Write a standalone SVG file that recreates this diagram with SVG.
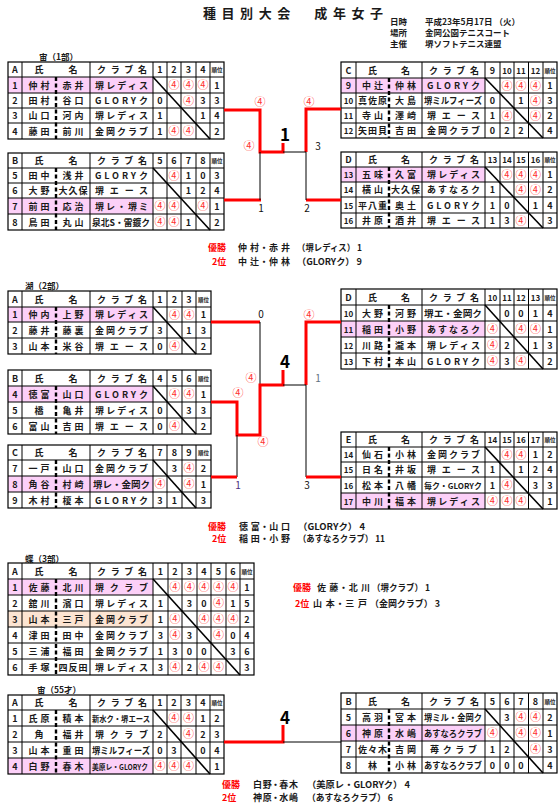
<svg xmlns="http://www.w3.org/2000/svg" width="560" height="810" viewBox="0 0 560 810">
<style>
text{font-family:"Noto Sans CJK JP","Noto Sans CJK SC",sans-serif;font-size:9px;font-weight:700;fill:#1a1a1a}
.m{text-anchor:middle}
.o{fill:#ff3333;font-weight:400;font-size:11px}
.k{font-size:5.5px}
.n{font-size:8px}
.bx{fill:none;stroke:#000;stroke-width:1.2}
.ln{fill:none;stroke:#000;stroke-width:1}
.dg{fill:none;stroke:#000;stroke-width:1.6}
.ds{fill:none;stroke:#000;stroke-width:2.4;stroke-dasharray:4 2.5}
.pk{fill:#fcd0f8}
.or{fill:#fce4d2}
.rd{fill:none;stroke:#ff0000;stroke-width:3}
.bk{fill:none;stroke:#000;stroke-width:1}
.sc{font-size:10px;font-weight:400;fill:#111}
.big{font-size:17px;font-weight:700;fill:#000}
.rt{fill:#ff0000}
.ttl{font-size:13px}
.inf{font-size:8.5px}
</style>
<rect width="560" height="810" fill="#fff"/>
<g id="header">
<text class="ttl" x="203" y="18" textLength="180">種目別大会　成年女子</text>
<text class="inf" x="390" y="25">日時</text><text class="inf" x="425" y="25">平成23年5月17日 （火）</text>
<text class="inf" x="390" y="36">場所</text><text class="inf" x="425" y="36">金岡公園テニスコート</text>
<text class="inf" x="390" y="47">主催</text><text class="inf" x="425" y="47">堺ソフトテニス連盟</text>
</g>
<g id="titles">
<text class="inf" x="39" y="60">宙（1部）</text>
<text class="inf" x="25" y="288.5">湖（2部）</text>
<text class="inf" x="25" y="561.5">蝶（3部）</text>
<text class="inf" x="37" y="693">宙（55才）</text>
</g>

<g id="sora1-A">
<rect class="pk" x="8" y="77" width="145" height="16"/>
<rect class="bx" x="8" y="62" width="216" height="77"/>
<path class="ln" d="M22 62V139M90 62V139M153 62V139M167 62V139M181 62V139M196 62V139M210 62V139M8 77H224M8 93H224M8 108H224M8 123H224"/>
<path class="dg" d="M153 77L210 139"/>
<path class="ds" d="M56 77V139"/>
<text class="m" x="15" y="73">A</text><text class="m" x="39" y="73">氏</text><text class="m" x="73" y="73">名</text><text x="97" y="73" textLength="50">クラブ名</text><text class="m" x="160" y="73">1</text><text class="m" x="174" y="73">2</text><text class="m" x="188.5" y="73">3</text><text class="m" x="203" y="73">4</text><text class="m k" x="217" y="72">順位</text>
<text class="m" x="15" y="88.5">1</text><text x="28.5" y="88.5" textLength="21">仲村</text><text x="62.5" y="88.5" textLength="21">赤井</text><text x="95" y="88.5" textLength="53">堺レディス</text><text class="m o" x="174" y="89">④</text><text class="m o" x="188.5" y="89">④</text><text class="m o" x="203" y="89">④</text><text class="m" x="217" y="88.5">1</text>
<text class="m" x="15" y="104">2</text><text x="28.5" y="104" textLength="21">田村</text><text x="62.5" y="104" textLength="21">谷口</text><text x="95" y="104" textLength="53">GLORYク</text><text class="m" x="160" y="104">0</text><text class="m o" x="188.5" y="104.5">④</text><text class="m" x="203" y="104">3</text><text class="m" x="217" y="104">3</text>
<text class="m" x="15" y="119">3</text><text x="28.5" y="119" textLength="21">山口</text><text x="62.5" y="119" textLength="21">河内</text><text x="95" y="119" textLength="53">堺レディス</text><text class="m" x="160" y="119">1</text><text class="m" x="203" y="119">1</text><text class="m" x="217" y="119">4</text>
<text class="m" x="15" y="134.5">4</text><text x="28.5" y="134.5" textLength="21">藤田</text><text x="62.5" y="134.5" textLength="21">前川</text><text x="95" y="134.5" textLength="53">金岡クラブ</text><text class="m" x="160" y="134.5">1</text><text class="m o" x="174" y="135">④</text><text class="m o" x="188.5" y="135">④</text><text class="m" x="217" y="134.5">2</text>
</g>

<g id="sora1-B">
<rect class="pk" x="8" y="198" width="145" height="16"/>
<rect class="bx" x="8" y="153" width="216" height="77"/>
<path class="ln" d="M22 153V230M90 153V230M153 153V230M167 153V230M181 153V230M196 153V230M210 153V230M8 168H224M8 183H224M8 198H224M8 214H224"/>
<path class="dg" d="M153 168L210 230"/>
<path class="ds" d="M56 168V230"/>
<text class="m" x="15" y="164">B</text><text class="m" x="39" y="164">氏</text><text class="m" x="73" y="164">名</text><text x="97" y="164" textLength="50">クラブ名</text><text class="m" x="160" y="164">5</text><text class="m" x="174" y="164">6</text><text class="m" x="188.5" y="164">7</text><text class="m" x="203" y="164">8</text><text class="m k" x="217" y="163">順位</text>
<text class="m" x="15" y="179">5</text><text x="28.5" y="179" textLength="21">田中</text><text x="62.5" y="179" textLength="21">浅井</text><text x="95" y="179" textLength="53">GLORYク</text><text class="m o" x="174" y="179.5">④</text><text class="m" x="188.5" y="179">1</text><text class="m" x="203" y="179">0</text><text class="m" x="217" y="179">3</text>
<text class="m" x="15" y="194">6</text><text x="28.5" y="194" textLength="21">大野</text><text x="58.5" y="194" textLength="29">大久保</text><text x="95" y="194" textLength="53">堺エース</text><text class="m" x="188.5" y="194">1</text><text class="m" x="203" y="194">2</text><text class="m" x="217" y="194">4</text>
<text class="m" x="15" y="209.5">7</text><text x="28.5" y="209.5" textLength="21">前田</text><text x="62.5" y="209.5" textLength="21">応治</text><text x="95" y="209.5" textLength="53">堺レ・堺ミ</text><text class="m o" x="160" y="210">④</text><text class="m o" x="174" y="210">④</text><text class="m o" x="203" y="210">④</text><text class="m" x="217" y="209.5">1</text>
<text class="m" x="15" y="225.5">8</text><text x="28.5" y="225.5" textLength="21">鳥田</text><text x="62.5" y="225.5" textLength="21">丸山</text><text x="92" y="225.5" textLength="58" lengthAdjust="spacingAndGlyphs">泉北S・雷鍍ク</text><text class="m o" x="160" y="226">④</text><text class="m o" x="174" y="226">④</text><text class="m" x="188.5" y="225.5">1</text><text class="m" x="217" y="225.5">2</text>
</g>

<g id="sora1-C">
<rect class="pk" x="341" y="78" width="144" height="15"/>
<rect class="bx" x="341" y="62" width="216" height="76"/>
<path class="ln" d="M356 62V138M422 62V138M485 62V138M500 62V138M514 62V138M528.5 62V138M543 62V138M341 78H557M341 93H557M341 108H557M341 123H557"/>
<path class="dg" d="M485 78L543 138"/>
<path class="ds" d="M389 78V138"/>
<text class="m" x="348.5" y="73.5">C</text><text class="m" x="372.5" y="73.5">氏</text><text class="m" x="405.5" y="73.5">名</text><text x="429" y="73.5" textLength="50">クラブ名</text><text class="m" x="492.5" y="73.5">9</text><text class="m n" x="507" y="73.5">10</text><text class="m n" x="521" y="73.5">11</text><text class="m n" x="535.5" y="73.5">12</text><text class="m k" x="550" y="72.5">順位</text>
<text class="m" x="348.5" y="89">9</text><text x="362" y="89" textLength="21">中辻</text><text x="395" y="89" textLength="21">仲林</text><text x="427" y="89" textLength="53">GLORYク</text><text class="m o" x="507" y="89.5">④</text><text class="m o" x="521" y="89.5">④</text><text class="m o" x="535.5" y="89.5">④</text><text class="m" x="550" y="89">1</text>
<text class="m n" x="348.5" y="104">10</text><text x="358" y="104" textLength="29">真佐原</text><text x="395" y="104" textLength="21">大島</text><text x="424" y="104" textLength="58" lengthAdjust="spacingAndGlyphs">堺ミルフィーズ</text><text class="m" x="492.5" y="104">0</text><text class="m" x="521" y="104">1</text><text class="m o" x="535.5" y="104.5">④</text><text class="m" x="550" y="104">3</text>
<text class="m n" x="348.5" y="119">11</text><text x="362" y="119" textLength="21">寺山</text><text x="395" y="119" textLength="21">澤崎</text><text x="427" y="119" textLength="53">堺エース</text><text class="m" x="492.5" y="119">1</text><text class="m o" x="507" y="119.5">④</text><text class="m o" x="535.5" y="119.5">④</text><text class="m" x="550" y="119">2</text>
<text class="m n" x="348.5" y="134">12</text><text x="358" y="134" textLength="29">矢田貝</text><text x="395" y="134" textLength="21">吉田</text><text x="427" y="134" textLength="53">金岡クラブ</text><text class="m" x="492.5" y="134">0</text><text class="m" x="507" y="134">2</text><text class="m" x="521" y="134">2</text><text class="m" x="550" y="134">4</text>
</g>

<g id="sora1-D">
<rect class="pk" x="341" y="167" width="144" height="15"/>
<rect class="bx" x="341" y="152" width="216" height="76"/>
<path class="ln" d="M356 152V228M422 152V228M485 152V228M500 152V228M514 152V228M528.5 152V228M543 152V228M341 167H557M341 182H557M341 197H557M341 213H557"/>
<path class="dg" d="M485 167L543 228"/>
<path class="ds" d="M389 167V228"/>
<text class="m" x="348.5" y="163">D</text><text class="m" x="372.5" y="163">氏</text><text class="m" x="405.5" y="163">名</text><text x="429" y="163" textLength="50">クラブ名</text><text class="m n" x="492.5" y="163">13</text><text class="m n" x="507" y="163">14</text><text class="m n" x="521" y="163">15</text><text class="m n" x="535.5" y="163">16</text><text class="m k" x="550" y="162">順位</text>
<text class="m n" x="348.5" y="178">13</text><text x="362" y="178" textLength="21">五味</text><text x="395" y="178" textLength="21">久富</text><text x="427" y="178" textLength="53">堺レディス</text><text class="m o" x="507" y="178.5">④</text><text class="m o" x="521" y="178.5">④</text><text class="m o" x="535.5" y="178.5">④</text><text class="m" x="550" y="178">1</text>
<text class="m n" x="348.5" y="193">14</text><text x="362" y="193" textLength="21">横山</text><text x="391" y="193" textLength="29">大久保</text><text x="427" y="193" textLength="53">あすなろク</text><text class="m" x="492.5" y="193">1</text><text class="m o" x="521" y="193.5">④</text><text class="m o" x="535.5" y="193.5">④</text><text class="m" x="550" y="193">2</text>
<text class="m n" x="348.5" y="208.5">15</text><text x="358" y="208.5" textLength="29">平八重</text><text x="395" y="208.5" textLength="21">奥土</text><text x="427" y="208.5" textLength="53">GLORYク</text><text class="m" x="492.5" y="208.5">1</text><text class="m" x="507" y="208.5">0</text><text class="m" x="535.5" y="208.5">1</text><text class="m" x="550" y="208.5">4</text>
<text class="m n" x="348.5" y="224">16</text><text x="362" y="224" textLength="21">井原</text><text x="395" y="224" textLength="21">酒井</text><text x="427" y="224" textLength="53">堺エース</text><text class="m" x="492.5" y="224">1</text><text class="m" x="507" y="224">3</text><text class="m o" x="521" y="224.5">④</text><text class="m" x="550" y="224">3</text>
</g>

<g id="ko-A">
<rect class="pk" x="8" y="307" width="145" height="15"/>
<rect class="bx" x="8" y="291" width="203" height="63"/>
<path class="ln" d="M22 291V354M90 291V354M153 291V354M167 291V354M182 291V354M196 291V354M8 307H211M8 322H211M8 338H211"/>
<path class="dg" d="M153 307L196 354"/>
<path class="ds" d="M56 307V354"/>
<text class="m" x="15" y="302.5">A</text><text class="m" x="39" y="302.5">氏</text><text class="m" x="73" y="302.5">名</text><text x="97" y="302.5" textLength="50">クラブ名</text><text class="m" x="160" y="302.5">1</text><text class="m" x="174.5" y="302.5">2</text><text class="m" x="189" y="302.5">3</text><text class="m k" x="203.5" y="301.5">順位</text>
<text class="m" x="15" y="318">1</text><text x="28.5" y="318" textLength="21">仲内</text><text x="62.5" y="318" textLength="21">上野</text><text x="95" y="318" textLength="53">堺レディス</text><text class="m o" x="174.5" y="318.5">④</text><text class="m o" x="189" y="318.5">④</text><text class="m" x="203.5" y="318">1</text>
<text class="m" x="15" y="333.5">2</text><text x="28.5" y="333.5" textLength="21">藤井</text><text x="62.5" y="333.5" textLength="21">藤裏</text><text x="95" y="333.5" textLength="53">金岡クラブ</text><text class="m" x="160" y="333.5">3</text><text class="m" x="189" y="333.5">1</text><text class="m" x="203.5" y="333.5">3</text>
<text class="m" x="15" y="349.5">3</text><text x="28.5" y="349.5" textLength="21">山本</text><text x="62.5" y="349.5" textLength="21">米谷</text><text x="95" y="349.5" textLength="53">堺エース</text><text class="m" x="160" y="349.5">0</text><text class="m o" x="174.5" y="350">④</text><text class="m" x="203.5" y="349.5">2</text>
</g>

<g id="ko-B">
<rect class="pk" x="8" y="386" width="145" height="16"/>
<rect class="bx" x="8" y="370" width="203" height="64"/>
<path class="ln" d="M22 370V434M90 370V434M153 370V434M167 370V434M182 370V434M196 370V434M8 386H211M8 402H211M8 418H211"/>
<path class="dg" d="M153 386L196 434"/>
<path class="ds" d="M56 386V434"/>
<text class="m" x="15" y="381.5">B</text><text class="m" x="39" y="381.5">氏</text><text class="m" x="73" y="381.5">名</text><text x="97" y="381.5" textLength="50">クラブ名</text><text class="m" x="160" y="381.5">4</text><text class="m" x="174.5" y="381.5">5</text><text class="m" x="189" y="381.5">6</text><text class="m k" x="203.5" y="380.5">順位</text>
<text class="m" x="15" y="397.5">4</text><text x="28.5" y="397.5" textLength="21">徳富</text><text x="62.5" y="397.5" textLength="21">山口</text><text x="95" y="397.5" textLength="53">GLORYク</text><text class="m o" x="174.5" y="398">④</text><text class="m o" x="189" y="398">④</text><text class="m" x="203.5" y="397.5">1</text>
<text class="m" x="15" y="413.5">5</text><text class="m" x="39" y="413.5">橋</text><text x="62.5" y="413.5" textLength="21">亀井</text><text x="95" y="413.5" textLength="53">堺レディス</text><text class="m" x="160" y="413.5">0</text><text class="m" x="189" y="413.5">3</text><text class="m" x="203.5" y="413.5">3</text>
<text class="m" x="15" y="429.5">6</text><text x="28.5" y="429.5" textLength="21">富山</text><text x="62.5" y="429.5" textLength="21">吉田</text><text x="95" y="429.5" textLength="53">堺エース</text><text class="m" x="160" y="429.5">0</text><text class="m o" x="174.5" y="430">④</text><text class="m" x="203.5" y="429.5">2</text>
</g>

<g id="ko-C">
<rect class="pk" x="8" y="476" width="145" height="16"/>
<rect class="bx" x="8" y="445" width="203" height="63"/>
<path class="ln" d="M22 445V508M90 445V508M153 445V508M167 445V508M182 445V508M196 445V508M8 460H211M8 476H211M8 492H211"/>
<path class="dg" d="M153 460L196 508"/>
<path class="ds" d="M56 460V508"/>
<text class="m" x="15" y="456">C</text><text class="m" x="39" y="456">氏</text><text class="m" x="73" y="456">名</text><text x="97" y="456" textLength="50">クラブ名</text><text class="m" x="160" y="456">7</text><text class="m" x="174.5" y="456">8</text><text class="m" x="189" y="456">9</text><text class="m k" x="203.5" y="455">順位</text>
<text class="m" x="15" y="471.5">7</text><text x="28.5" y="471.5" textLength="21">一戸</text><text x="62.5" y="471.5" textLength="21">山口</text><text x="95" y="471.5" textLength="53">金岡クラブ</text><text class="m" x="174.5" y="471.5">3</text><text class="m o" x="189" y="472">④</text><text class="m" x="203.5" y="471.5">2</text>
<text class="m" x="15" y="487.5">8</text><text x="28.5" y="487.5" textLength="21">角谷</text><text x="62.5" y="487.5" textLength="21">村崎</text><text x="93" y="487.5" textLength="57" lengthAdjust="spacingAndGlyphs">堺レ・金岡ク</text><text class="m o" x="160" y="488">④</text><text class="m o" x="189" y="488">④</text><text class="m" x="203.5" y="487.5">1</text>
<text class="m" x="15" y="503.5">9</text><text x="28.5" y="503.5" textLength="21">木村</text><text x="62.5" y="503.5" textLength="21">榎本</text><text x="95" y="503.5" textLength="53">GLORYク</text><text class="m" x="160" y="503.5">3</text><text class="m" x="174.5" y="503.5">1</text><text class="m" x="203.5" y="503.5">3</text>
</g>

<g id="ko-D">
<rect class="pk" x="341" y="321" width="144" height="16"/>
<rect class="bx" x="341" y="289" width="216" height="80"/>
<path class="ln" d="M356 289V369M422 289V369M485 289V369M500 289V369M514 289V369M528.5 289V369M543 289V369M341 305H557M341 321H557M341 337H557M341 353H557"/>
<path class="dg" d="M485 305L543 369"/>
<path class="ds" d="M389 305V369"/>
<text class="m" x="348.5" y="300.5">D</text><text class="m" x="372.5" y="300.5">氏</text><text class="m" x="405.5" y="300.5">名</text><text x="429" y="300.5" textLength="50">クラブ名</text><text class="m n" x="492.5" y="300.5">10</text><text class="m n" x="507" y="300.5">11</text><text class="m n" x="521" y="300.5">12</text><text class="m n" x="535.5" y="300.5">13</text><text class="m k" x="550" y="299.5">順位</text>
<text class="m n" x="348.5" y="316.5">10</text><text x="362" y="316.5" textLength="21">大野</text><text x="395" y="316.5" textLength="21">河野</text><text x="424" y="316.5" textLength="58" lengthAdjust="spacingAndGlyphs">堺エ・金岡ク</text><text class="m" x="507" y="316.5">0</text><text class="m" x="521" y="316.5">0</text><text class="m" x="535.5" y="316.5">1</text><text class="m" x="550" y="316.5">4</text>
<text class="m n" x="348.5" y="332.5">11</text><text x="362" y="332.5" textLength="21">稲田</text><text x="395" y="332.5" textLength="21">小野</text><text x="427" y="332.5" textLength="53">あすなろク</text><text class="m o" x="492.5" y="333">④</text><text class="m o" x="521" y="333">④</text><text class="m o" x="535.5" y="333">④</text><text class="m" x="550" y="332.5">1</text>
<text class="m n" x="348.5" y="348.5">12</text><text x="362" y="348.5" textLength="21">川路</text><text x="395" y="348.5" textLength="21">瀧本</text><text x="427" y="348.5" textLength="53">堺レディス</text><text class="m o" x="492.5" y="349">④</text><text class="m" x="507" y="348.5">2</text><text class="m" x="535.5" y="348.5">1</text><text class="m" x="550" y="348.5">3</text>
<text class="m n" x="348.5" y="364.5">13</text><text x="362" y="364.5" textLength="21">下村</text><text x="395" y="364.5" textLength="21">本山</text><text x="427" y="364.5" textLength="53">GLORYク</text><text class="m o" x="492.5" y="365">④</text><text class="m" x="507" y="364.5">3</text><text class="m o" x="521" y="365">④</text><text class="m" x="550" y="364.5">2</text>
</g>

<g id="ko-E">
<rect class="pk" x="341" y="493" width="144" height="16"/>
<rect class="bx" x="341" y="432" width="216" height="77"/>
<path class="ln" d="M356 432V509M422 432V509M485 432V509M500 432V509M514 432V509M528.5 432V509M543 432V509M341 447H557M341 462H557M341 477H557M341 493H557"/>
<path class="dg" d="M485 447L543 509"/>
<path class="ds" d="M389 447V509"/>
<text class="m" x="348.5" y="443">E</text><text class="m" x="372.5" y="443">氏</text><text class="m" x="405.5" y="443">名</text><text x="429" y="443" textLength="50">クラブ名</text><text class="m n" x="492.5" y="443">14</text><text class="m n" x="507" y="443">15</text><text class="m n" x="521" y="443">16</text><text class="m n" x="535.5" y="443">17</text><text class="m k" x="550" y="442">順位</text>
<text class="m n" x="348.5" y="458">14</text><text x="362" y="458" textLength="21">仙石</text><text x="395" y="458" textLength="21">小林</text><text x="427" y="458" textLength="53">金岡クラブ</text><text class="m o" x="507" y="458.5">④</text><text class="m o" x="521" y="458.5">④</text><text class="m" x="535.5" y="458">1</text><text class="m" x="550" y="458">2</text>
<text class="m n" x="348.5" y="473">15</text><text x="362" y="473" textLength="21">日名</text><text x="395" y="473" textLength="21">井坂</text><text x="427" y="473" textLength="53">堺エース</text><text class="m" x="492.5" y="473">1</text><text class="m" x="521" y="473">1</text><text class="m" x="535.5" y="473">2</text><text class="m" x="550" y="473">4</text>
<text class="m n" x="348.5" y="488.5">16</text><text x="362" y="488.5" textLength="21">松本</text><text x="395" y="488.5" textLength="21">八幡</text><text x="424" y="488.5" textLength="58" lengthAdjust="spacingAndGlyphs" style="font-size:8px">毎ク・GLORYク</text><text class="m" x="492.5" y="488.5">1</text><text class="m o" x="507" y="489">④</text><text class="m" x="535.5" y="488.5">3</text><text class="m" x="550" y="488.5">3</text>
<text class="m n" x="348.5" y="504.5">17</text><text x="362" y="504.5" textLength="21">中川</text><text x="395" y="504.5" textLength="21">福本</text><text x="427" y="504.5" textLength="53">堺レディス</text><text class="m o" x="492.5" y="505">④</text><text class="m o" x="507" y="505">④</text><text class="m o" x="521" y="505">④</text><text class="m" x="550" y="504.5">1</text>
</g>

<g id="cho-A">
<rect class="pk" x="8" y="579" width="145" height="16"/>
<rect class="or" x="8" y="611" width="145" height="16"/>
<rect class="bx" x="8" y="563" width="246" height="112"/>
<path class="ln" d="M22 563V675M90 563V675M153 563V675M168 563V675M182 563V675M197 563V675M211 563V675M226 563V675M240 563V675M8 579H254M8 595H254M8 611H254M8 627H254M8 643H254M8 659H254"/>
<path class="dg" d="M153 579L240 675"/>
<path class="ds" d="M56 579V675"/>
<text class="m" x="15" y="574.5">A</text><text class="m" x="39" y="574.5">氏</text><text class="m" x="73" y="574.5">名</text><text x="97" y="574.5" textLength="50">クラブ名</text><text class="m" x="160.5" y="574.5">1</text><text class="m" x="175" y="574.5">2</text><text class="m" x="189.5" y="574.5">3</text><text class="m" x="204" y="574.5">4</text><text class="m" x="218.5" y="574.5">5</text><text class="m" x="233" y="574.5">6</text><text class="m k" x="247" y="573.5">順位</text>
<text class="m" x="15" y="590.5">1</text><text x="28.5" y="590.5" textLength="21">佐藤</text><text x="62.5" y="590.5" textLength="21">北川</text><text x="95" y="590.5" textLength="53">堺クラブ</text><text class="m o" x="175" y="591">④</text><text class="m o" x="189.5" y="591">④</text><text class="m o" x="204" y="591">④</text><text class="m o" x="218.5" y="591">④</text><text class="m o" x="233" y="591">④</text><text class="m" x="247" y="590.5">1</text>
<text class="m" x="15" y="606.5">2</text><text x="28.5" y="606.5" textLength="21">舘川</text><text x="62.5" y="606.5" textLength="21">濱口</text><text x="95" y="606.5" textLength="53">堺レディス</text><text class="m" x="160.5" y="606.5">1</text><text class="m" x="189.5" y="606.5">3</text><text class="m" x="204" y="606.5">0</text><text class="m o" x="218.5" y="607">④</text><text class="m" x="233" y="606.5">1</text><text class="m" x="247" y="606.5">5</text>
<text class="m" x="15" y="622.5">3</text><text x="28.5" y="622.5" textLength="21">山本</text><text x="62.5" y="622.5" textLength="21">三戸</text><text x="95" y="622.5" textLength="53">金岡クラブ</text><text class="m" x="160.5" y="622.5">1</text><text class="m o" x="175" y="623">④</text><text class="m o" x="204" y="623">④</text><text class="m o" x="218.5" y="623">④</text><text class="m o" x="233" y="623">④</text><text class="m" x="247" y="622.5">2</text>
<text class="m" x="15" y="638.5">4</text><text x="28.5" y="638.5" textLength="21">津田</text><text x="62.5" y="638.5" textLength="21">田中</text><text x="95" y="638.5" textLength="53">金岡クラブ</text><text class="m" x="160.5" y="638.5">3</text><text class="m o" x="175" y="639">④</text><text class="m" x="189.5" y="638.5">3</text><text class="m o" x="218.5" y="639">④</text><text class="m" x="233" y="638.5">0</text><text class="m" x="247" y="638.5">4</text>
<text class="m" x="15" y="654.5">5</text><text x="28.5" y="654.5" textLength="21">三浦</text><text x="62.5" y="654.5" textLength="21">福田</text><text x="95" y="654.5" textLength="53">金岡クラブ</text><text class="m" x="160.5" y="654.5">1</text><text class="m" x="175" y="654.5">3</text><text class="m" x="189.5" y="654.5">0</text><text class="m" x="204" y="654.5">0</text><text class="m" x="233" y="654.5">3</text><text class="m" x="247" y="654.5">6</text>
<text class="m" x="15" y="670.5">6</text><text x="28.5" y="670.5" textLength="21">手塚</text><text x="58.5" y="670.5" textLength="29">四反田</text><text x="95" y="670.5" textLength="53">堺レディス</text><text class="m" x="160.5" y="670.5">3</text><text class="m o" x="175" y="671">④</text><text class="m" x="189.5" y="670.5">2</text><text class="m o" x="204" y="671">④</text><text class="m o" x="218.5" y="671">④</text><text class="m" x="247" y="670.5">3</text>
</g>

<g id="sora55-A">
<rect class="pk" x="8" y="758" width="145" height="16"/>
<rect class="bx" x="8" y="695" width="216" height="79"/>
<path class="ln" d="M22 695V774M90 695V774M153 695V774M167 695V774M181 695V774M196 695V774M210 695V774M8 710H224M8 726H224M8 742H224M8 758H224"/>
<path class="dg" d="M153 710L210 774"/>
<path class="ds" d="M56 710V774"/>
<text class="m" x="15" y="706">A</text><text class="m" x="39" y="706">氏</text><text class="m" x="73" y="706">名</text><text x="97" y="706" textLength="50">クラブ名</text><text class="m" x="160" y="706">1</text><text class="m" x="174" y="706">2</text><text class="m" x="188.5" y="706">3</text><text class="m" x="203" y="706">4</text><text class="m k" x="217" y="705">順位</text>
<text class="m" x="15" y="721.5">1</text><text x="28.5" y="721.5" textLength="21">氏原</text><text x="62.5" y="721.5" textLength="21">積本</text><text x="92" y="721.5" textLength="58" lengthAdjust="spacingAndGlyphs" style="font-size:8px">新水ク・堺エース</text><text class="m o" x="174" y="722">④</text><text class="m o" x="188.5" y="722">④</text><text class="m" x="203" y="721.5">1</text><text class="m" x="217" y="721.5">2</text>
<text class="m" x="15" y="737.5">2</text><text class="m" x="39" y="737.5">角</text><text x="62.5" y="737.5" textLength="21">福井</text><text x="95" y="737.5" textLength="53">堺クラブ</text><text class="m" x="160" y="737.5">2</text><text class="m o" x="188.5" y="738">④</text><text class="m" x="203" y="737.5">2</text><text class="m" x="217" y="737.5">3</text>
<text class="m" x="15" y="753.5">3</text><text x="28.5" y="753.5" textLength="21">山本</text><text x="62.5" y="753.5" textLength="21">重田</text><text x="92" y="753.5" textLength="58" lengthAdjust="spacingAndGlyphs">堺ミルフィーズ</text><text class="m" x="160" y="753.5">0</text><text class="m" x="174" y="753.5">3</text><text class="m" x="203" y="753.5">0</text><text class="m" x="217" y="753.5">4</text>
<text class="m" x="15" y="769.5">4</text><text x="28.5" y="769.5" textLength="21">白野</text><text x="62.5" y="769.5" textLength="21">春木</text><text x="92" y="769.5" textLength="56" lengthAdjust="spacingAndGlyphs" style="font-size:7.5px">美原レ・GLORYク</text><text class="m o" x="160" y="770">④</text><text class="m o" x="174" y="770">④</text><text class="m o" x="188.5" y="770">④</text><text class="m" x="217" y="769.5">1</text>
</g>

<g id="sora55-B">
<rect class="pk" x="341" y="725" width="144" height="16"/>
<rect class="bx" x="341" y="693" width="216" height="80"/>
<path class="ln" d="M356 693V773M422 693V773M485 693V773M500 693V773M514 693V773M528.5 693V773M543 693V773M341 709H557M341 725H557M341 741H557M341 757H557"/>
<path class="dg" d="M485 709L543 773"/>
<path class="ds" d="M389 709V773"/>
<text class="m" x="348.5" y="704.5">B</text><text class="m" x="372.5" y="704.5">氏</text><text class="m" x="405.5" y="704.5">名</text><text x="429" y="704.5" textLength="50">クラブ名</text><text class="m" x="492.5" y="704.5">5</text><text class="m" x="507" y="704.5">6</text><text class="m" x="521" y="704.5">7</text><text class="m" x="535.5" y="704.5">8</text><text class="m k" x="550" y="703.5">順位</text>
<text class="m" x="348.5" y="720.5">5</text><text x="362" y="720.5" textLength="21">高羽</text><text x="395" y="720.5" textLength="21">宮本</text><text x="424" y="720.5" textLength="58" lengthAdjust="spacingAndGlyphs">堺ミル・金岡ク</text><text class="m" x="507" y="720.5">3</text><text class="m o" x="521" y="721">④</text><text class="m o" x="535.5" y="721">④</text><text class="m" x="550" y="720.5">2</text>
<text class="m" x="348.5" y="736.5">6</text><text x="362" y="736.5" textLength="21">神原</text><text x="395" y="736.5" textLength="21">水嶋</text><text x="424" y="736.5" textLength="58" lengthAdjust="spacingAndGlyphs">あすなろクラブ</text><text class="m o" x="492.5" y="737">④</text><text class="m o" x="521" y="737">④</text><text class="m o" x="535.5" y="737">④</text><text class="m" x="550" y="736.5">1</text>
<text class="m" x="348.5" y="752.5">7</text><text x="358" y="752.5" textLength="29">佐々木</text><text x="395" y="752.5" textLength="21">吉岡</text><text x="430" y="752.5" textLength="47">苺クラブ</text><text class="m" x="492.5" y="752.5">1</text><text class="m" x="507" y="752.5">2</text><text class="m o" x="535.5" y="753">④</text><text class="m" x="550" y="752.5">3</text>
<text class="m" x="348.5" y="768.5">8</text><text class="m" x="372.5" y="768.5">林</text><text x="395" y="768.5" textLength="21">小林</text><text x="424" y="768.5" textLength="58" lengthAdjust="spacingAndGlyphs">あすなろクラブ</text><text class="m" x="492.5" y="768.5">0</text><text class="m" x="507" y="768.5">0</text><text class="m" x="521" y="768.5">0</text><text class="m" x="550" y="768.5">4</text>
</g>

<g id="connectors">
<path class="rd" d="M224 110H260V152H283V143"/>
<path class="rd" d="M224 200H261"/>
<path class="bk" d="M260 152V200"/>
<path class="rd" d="M341 109H306V152"/>
<path class="rd" d="M341 200H306"/>
<path class="bk" d="M306 152V200M283 152H306"/>
<path class="rd" d="M211 322H260"/>
<path class="bk" d="M260 322V385"/>
<path class="rd" d="M211 402H237V435H260V385H283V370"/>
<path class="bk" d="M237 435V477"/>
<path class="rd" d="M211 477H237"/>
<path class="rd" d="M341 322H306V385"/>
<path class="bk" d="M283 385H306V477"/>
<path class="rd" d="M341 477H306"/>
<path class="rd" d="M224 742H283V725"/>
<path class="bk" d="M283 742H341"/>
</g>

<g id="scores">
<text class="m o" x="260" y="106">④</text>
<text class="m o" x="249" y="150">④</text>
<text class="m sc" x="261" y="212">1</text>
<text class="m o" x="309" y="106">④</text>
<text class="m sc" x="318" y="150">3</text>
<text class="m sc" x="307" y="212">2</text>
<text class="m big" x="285" y="141">1</text>
<text class="m sc" x="261" y="318">0</text>
<text class="m o" x="251" y="382">④</text>
<text class="m o" x="238" y="397">④</text>
<text class="m o" x="263" y="446">④</text>
<text class="m sc" x="238" y="489" style="fill:#4b2f80">1</text>
<text class="m o" x="309" y="319">④</text>
<text class="m sc" x="318" y="382" style="fill:#5f7080">1</text>
<text class="m sc" x="307" y="489">3</text>
<text class="m big" x="285" y="368">4</text>
<text class="m big" x="285" y="724">4</text>
</g>

<g id="results">
<text class="rt" x="208" y="251">優勝</text><text x="238" y="251" textLength="52">仲 村・赤 井</text><text x="297" y="251" textLength="65" lengthAdjust="spacingAndGlyphs">（堺レディス） 1</text>
<text class="rt" x="212" y="265">2位</text><text x="238" y="265" textLength="52">中 辻・仲 林</text><text x="297" y="265" textLength="65" lengthAdjust="spacingAndGlyphs">（GLORYク） 9</text>
<text class="rt" x="208" y="530">優勝</text><text x="239" y="530" textLength="51">徳 富・山 口</text><text x="298" y="530" textLength="67" lengthAdjust="spacingAndGlyphs">（GLORYク） 4</text>
<text class="rt" x="212" y="542">2位</text><text x="239" y="542" textLength="51">稲 田・小 野</text><text x="298" y="542" textLength="87" lengthAdjust="spacingAndGlyphs">（あすなろクラブ） 11</text>
<text class="rt" x="293" y="591">優勝</text><text x="317" y="591" textLength="53">佐 藤・北 川</text><text x="372" y="591" textLength="58" lengthAdjust="spacingAndGlyphs">（堺クラブ） 1</text>
<text class="rt" x="295" y="607">2位</text><text x="313" y="607" textLength="54">山 本・三 戸</text><text x="370" y="607" textLength="70" lengthAdjust="spacingAndGlyphs">（金岡クラブ） 3</text>
<text class="rt" x="222" y="788">優勝</text><text x="253" y="788" textLength="45">白 野・春 木</text><text x="307" y="788" textLength="103" lengthAdjust="spacingAndGlyphs">（美原レ・GLORYク） 4</text>
<text class="rt" x="222" y="801">2位</text><text x="253" y="801" textLength="45">神 原・水 嶋</text><text x="307" y="801" textLength="86" lengthAdjust="spacingAndGlyphs">（あすなろクラブ） 6</text>
</g>
</svg>
